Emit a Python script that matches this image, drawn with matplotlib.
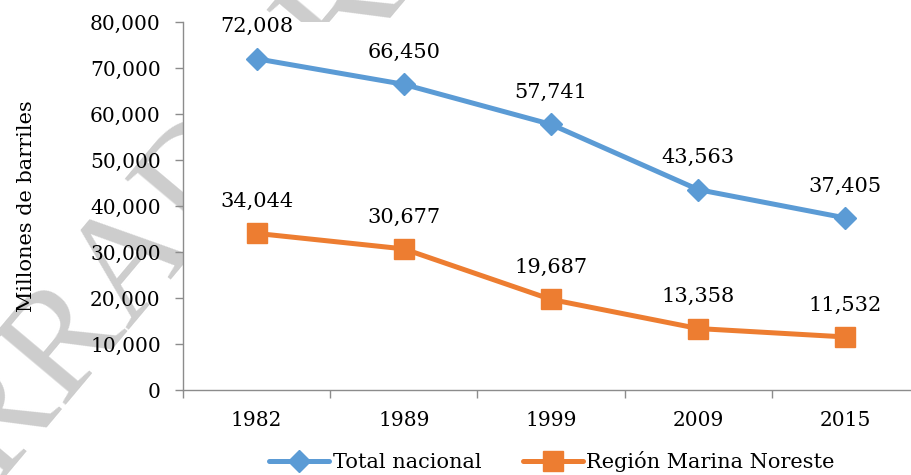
import matplotlib.pyplot as plt

# data
years = ["1982", "1989", "1999", "2009", "2015"]
total_nacional = [72008, 66450, 57741, 43563, 37405]
marina_noreste = [34044, 30677, 19687, 13358, 11532]
y_ticks = [0, 10000, 20000, 30000, 40000, 50000, 60000, 70000, 80000]

BLUE = "#5B9BD5"
ORANGE = "#ED7D31"
AXIS_GRAY = "#8C8C8C"

plt.rcParams["font.family"] = ["DejaVu Serif"]

fig = plt.figure(figsize=(9.11, 4.75), dpi=100)
fig.patch.set_facecolor("white")

# faint watermark behind the chart (only visible outside the plot area)
fig.text(105 / 911, 1 - 297 / 475, "BORRADOR", rotation=50, rotation_mode="anchor",
         ha="center", va="center", fontsize=110, family="Liberation Serif",
         color="#CDCDCD", zorder=-1)

ax = fig.add_axes([183 / 911, 85 / 475, 736 / 911, 368 / 475])
ax.set_facecolor("white")

x = list(range(len(years)))
ax.plot(x, total_nacional, color=BLUE, lw=3.6, marker="D", ms=11,
        label="Total nacional", solid_capstyle="round", zorder=3)
ax.plot(x, marina_noreste, color=ORANGE, lw=3.6, marker="s", ms=14,
        label="Región Marina Noreste", solid_capstyle="round", zorder=3)

for xi, v in zip(x, total_nacional):
    ax.annotate(f"{v:,}", (xi, v), xytext=(0, 23), textcoords="offset points",
                ha="center", va="center", fontsize=15)
for xi, v in zip(x, marina_noreste):
    ax.annotate(f"{v:,}", (xi, v), xytext=(0, 23), textcoords="offset points",
                ha="center", va="center", fontsize=15)

ax.set_xlim(-0.5, len(years) - 0.5)
ax.set_ylim(0, 80000)

ax.set_yticks(y_ticks)
ax.set_yticklabels([f"{t:,}" for t in y_ticks], fontsize=14.5)
ax.set_xticks([i - 0.5 for i in range(len(years) + 1)])
ax.set_xticklabels([])
ax.set_xticks(x, minor=True)
ax.set_xticklabels(years, minor=True, fontsize=14.5)
ax.tick_params(axis="x", which="minor", length=0, pad=15)
ax.tick_params(axis="both", which="major", color=AXIS_GRAY, length=6, width=1)
ax.tick_params(axis="y", pad=10)

for side in ["top", "right"]:
    ax.spines[side].set_visible(False)
for side in ["left", "bottom"]:
    ax.spines[side].set_color(AXIS_GRAY)
    ax.spines[side].set_linewidth(1)

ax.set_ylabel("Millones de barriles", fontsize=15)
ax.yaxis.set_label_coords(-0.2, 0.5)

fig.legend(loc="center", bbox_to_anchor=(552 / 911, 13 / 475), ncol=2,
           frameon=False, fontsize=15, handlelength=2.9, handletextpad=0.15,
           columnspacing=2.0)

fig.savefig("out.png", dpi=100)
